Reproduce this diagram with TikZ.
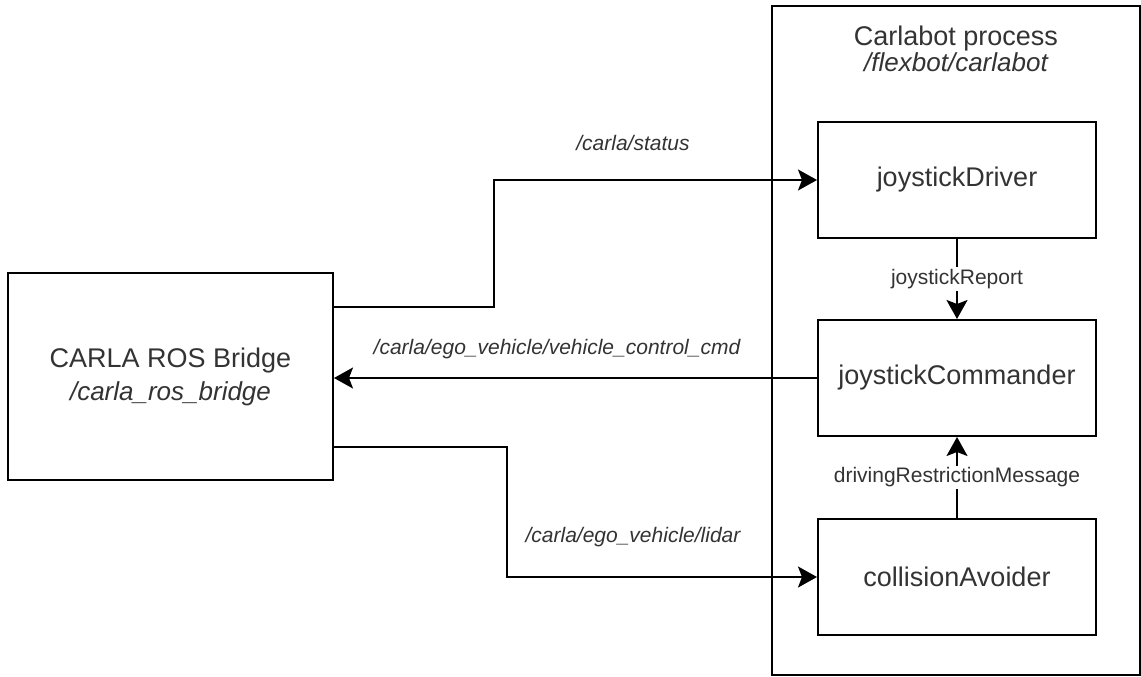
\documentclass[tikz,border=0pt]{standalone}
\usepackage{fontspec}
\setmainfont{Liberation Sans}
\usetikzlibrary{positioning,arrows.meta}
\definecolor{textgray}{RGB}{51,51,51}
\tikzset{
    procbox/.style={draw, rectangle, minimum width=278pt, minimum height=116pt, inner sep=0pt, text=textgray, font=\fontsize{27}{32}\selectfont},
    topic/.style={text=textgray, font=\fontsize{21}{25}\selectfont\itshape, inner sep=0pt},
    msg/.style={text=textgray, font=\fontsize{21}{25}\selectfont, fill=white, inner sep=2pt}
}
\begin{document}
\begin{tikzpicture}[x=1pt, y=-1pt, line width=2pt, node distance=80pt,
    >={Stealth[length=19pt,width=21pt,inset=4pt]}]
    \useasboundingbox (0,0) rectangle (1141,677);

    \node (process) [draw, rectangle, minimum width=368pt, minimum height=669pt, inner sep=0pt] at (956,340.5) {};
    \node (title) [text=textgray, font=\fontsize{27}{32}\selectfont, anchor=base] at (956,46) {Carlabot process};
    \node (path) [text=textgray, font=\fontsize{26}{30}\selectfont\itshape, anchor=base] at (956,71) {/flexbot/carlabot};

    \node (bridge) [draw, rectangle, minimum width=325pt, minimum height=207pt, inner sep=0pt, text=textgray, align=center, font=\fontsize{27}{33}\selectfont] at (170.5,376.5) {CARLA ROS Bridge\\{\fontsize{26}{33}\selectfont\itshape /carla\_ros\_bridge}};
    \node (driver) [procbox] at (957,180) {joystickDriver};
    \node (commander) [procbox, below=80pt of driver] {joystickCommander};
    \node (avoider) [procbox, below=81pt of commander] {collisionAvoider};

    \draw[->] (bridge.east |- 0,307) -- (494,307) |- (driver.west);
    \draw[->] (commander.west) -- (bridge.east |- commander.west);
    \draw[->] (bridge.east |- 0,447) -- (507,447) |- (avoider.west);

    \path[->] (driver) edge node[msg] {joystickReport} (commander)
              (avoider) edge node[msg] {drivingRestrictionMessage} (commander);

    \node (status) [topic] at (633,143) {/carla/status};
    \node (cmd) [topic] at (557,349) {/carla/ego\_vehicle/vehicle\_control\_cmd};
    \node (lidar) [topic] at (633,537) {/carla/ego\_vehicle/lidar};

\end{tikzpicture}
\end{document}
